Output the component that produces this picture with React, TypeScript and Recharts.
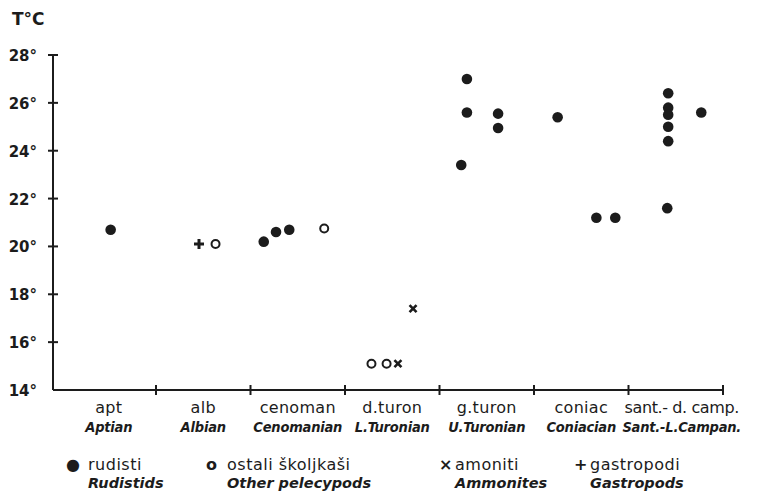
import { ScatterChart, Scatter, XAxis, YAxis } from "recharts";

const stages = ["apt", "alb", "cenoman", "d.turon", "g.turon", "coniac", "sant.- d. camp."];
const stagesEn = ["Aptian", "Albian", "Cenomanian", "L.Turonian", "U.Turonian", "Coniacian", "Sant.-L.Campan."];
const tempTicks = [14, 16, 18, 20, 22, 24, 26, 28];

// x = position along the stage scale (stage i spans i..i+1), t = temperature °C
const rudists = [
  { x: 0.52, t: 20.7 },
  { x: 2.14, t: 20.2 },
  { x: 2.27, t: 20.6 },
  { x: 2.41, t: 20.7 },
  { x: 4.23, t: 23.4 },
  { x: 4.29, t: 27.0 },
  { x: 4.29, t: 25.6 },
  { x: 4.62, t: 25.55 },
  { x: 4.62, t: 24.95 },
  { x: 5.25, t: 25.4 },
  { x: 5.66, t: 21.2 },
  { x: 5.86, t: 21.2 },
  { x: 6.42, t: 26.4 },
  { x: 6.42, t: 25.8 },
  { x: 6.42, t: 25.5 },
  { x: 6.42, t: 25.0 },
  { x: 6.42, t: 24.4 },
  { x: 6.41, t: 21.6 },
  { x: 6.77, t: 25.6 },
];
const otherPelecypods = [
  { x: 1.63, t: 20.1 },
  { x: 2.78, t: 20.75 },
  { x: 3.28, t: 15.1 },
  { x: 3.44, t: 15.1 },
];
const ammonites = [
  { x: 3.56, t: 15.1 },
  { x: 3.72, t: 17.4 },
];
const gastropods = [{ x: 1.455, t: 20.1 }];

const ink = "#1c1c1c";
const font = "DejaVu Sans, sans-serif";
const fontCond = "DejaVu Sans Condensed, DejaVu Sans, sans-serif";

const Filled = (p: any) => <circle cx={p.cx} cy={p.cy} r={5.3} fill={ink} />;
const Open = (p: any) => <circle cx={p.cx} cy={p.cy} r={4} fill="none" stroke={ink} strokeWidth={2} />;
const Cross = (p: any) => (
  <path d={`M${p.cx - 3.5},${p.cy - 3.5}L${p.cx + 3.5},${p.cy + 3.5}M${p.cx + 3.5},${p.cy - 3.5}L${p.cx - 3.5},${p.cy + 3.5}`} stroke={ink} strokeWidth={2.6} />
);
const Plus = (p: any) => (
  <path d={`M${p.cx - 5},${p.cy}L${p.cx + 5},${p.cy}M${p.cx},${p.cy - 5}L${p.cx},${p.cy + 5}`} stroke={ink} strokeWidth={3} />
);

const boundaries = [1, 2, 3, 4, 5, 6, 7];
const centers = stages.map((_, i) => i + 0.5);

function XTick(props: any) {
  const { x, y, payload } = props;
  const v = payload.value;
  if (Number.isInteger(v)) {
    return <line x1={x} x2={x} y1={y - 5} y2={y + 5} stroke={ink} strokeWidth={2} />;
  }
  const i = Math.floor(v);
  // last label sits a little right of its band centre in the original
  const dx = i === stages.length - 1 ? 6 : 0;
  return (
    <g>
      <text x={x + dx} y={y + 23} textAnchor="middle" fontFamily={font} fontSize={16} fill={ink} letterSpacing={i === stages.length - 1 ? -0.4 : 0.3}>
        {stages[i]}
      </text>
      <text x={x + dx} y={y + 42} textAnchor="middle" fontFamily={fontCond} fontSize={14.5} fontStyle="italic" fontWeight="bold" fill={ink} letterSpacing={-0.2}>
        {stagesEn[i]}
      </text>
    </g>
  );
}

function YTick(props: any) {
  const { x, y, payload } = props;
  return (
    <g>
      {payload.value > 14 && <line x1={x - 5} x2={x + 5} y1={y} y2={y} stroke={ink} strokeWidth={2} />}
      <text x={x - 16} y={y + 6} textAnchor="end" fontFamily={font} fontSize={15} fontWeight="bold" fill={ink}>
        {payload.value}°
      </text>
    </g>
  );
}

const legendItems = [
  { sym: "●", label: "rudisti", en: "Rudistids", x: 66, tx: 88 },
  { sym: "o", label: "ostali školjkaši", en: "Other pelecypods", x: 206, tx: 227 },
  { sym: "×", label: "amoniti", en: "Ammonites", x: 439, tx: 455 },
  { sym: "+", label: "gastropodi", en: "Gastropods", x: 574, tx: 590 },
];

export default function App() {
  return (
    <div style={{ position: "absolute", left: 0, top: 0, width: 771, height: 500, background: "#fff" }}>
      <div style={{ position: "absolute", left: 12, top: 9, fontFamily: font, fontSize: 17, fontWeight: "bold", color: ink }}>T°C</div>
      <ScatterChart width={771} height={500} margin={{ top: 55, right: 48, bottom: 109, left: 52 }}>
        <XAxis
          type="number"
          dataKey="x"
          domain={[-0.09, 7]}
          ticks={[...boundaries, ...centers]}
          interval={0}
          tick={<XTick />}
          tickLine={false}
          tickSize={0}
          tickMargin={0}
          height={1}
          axisLine={{ stroke: ink, strokeWidth: 2 }}
        />
        <YAxis
          type="number"
          dataKey="t"
          domain={[14, 28]}
          ticks={tempTicks}
          interval={0}
          tick={<YTick />}
          tickLine={false}
          tickSize={0}
          tickMargin={0}
          width={1}
          axisLine={{ stroke: ink, strokeWidth: 2 }}
        />
        <Scatter data={rudists} shape={Filled} isAnimationActive={false} />
        <Scatter data={otherPelecypods} shape={Open} isAnimationActive={false} />
        <Scatter data={ammonites} shape={Cross} isAnimationActive={false} />
        <Scatter data={gastropods} shape={Plus} isAnimationActive={false} />
      </ScatterChart>
      {legendItems.map((l) => (
        <div key={l.label}>
          <div style={{ position: "absolute", left: l.x, top: 455, fontFamily: font, fontSize: 16, fontWeight: "bold", color: ink }}>{l.sym}</div>
          <div style={{ position: "absolute", left: l.tx, top: 455, fontFamily: font, fontSize: 16, color: ink, letterSpacing: 0.5 }}>{l.label}</div>
          <div style={{ position: "absolute", left: l.tx, top: 475, fontFamily: font, fontSize: 14.5, fontStyle: "italic", fontWeight: "bold", color: ink }}>{l.en}</div>
        </div>
      ))}
    </div>
  );
}
